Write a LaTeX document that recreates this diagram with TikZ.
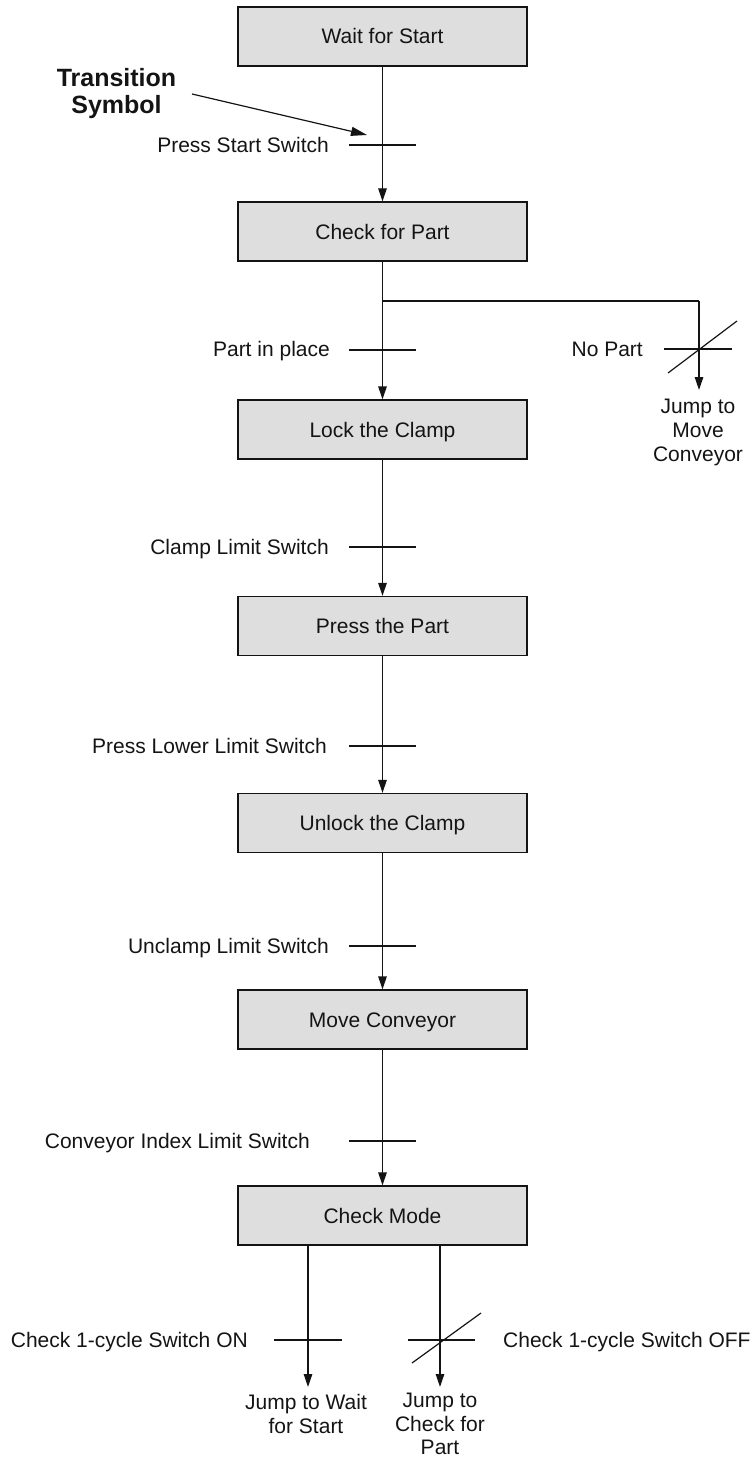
\documentclass[tikz,border=0pt]{standalone}
\usepackage{fontspec}
\setmainfont{Liberation Sans}
\usetikzlibrary{arrows.meta}
\definecolor{boxfill}{HTML}{DEDEDE}
\definecolor{ink}{HTML}{141414}
\begin{document}
\begin{tikzpicture}[x=1pt,y=-1pt,
  every node/.style={font=\fontsize{21}{24}\selectfont, text=ink},
  stepbox/.style={draw=ink, line width=1.3pt, fill=boxfill, minimum width=289pt, minimum height=59pt, inner sep=0pt, text height=15pt, text depth=0pt},
  lbl/.style={anchor=east, inner sep=0pt, text height=15pt, text depth=0pt},
  lblw/.style={anchor=west, inner sep=0pt, text height=15pt, text depth=0pt},
  jump/.style={align=center, inner sep=0pt, anchor=north},
  flow/.style={draw=ink, line width=1.3pt, -{Triangle[length=13pt,width=8.5pt]}},
  plain/.style={draw=ink, line width=1.3pt},
  bar/.style={draw=ink, line width=1.2pt},
  pointer/.style={draw=ink, line width=1.2pt, -{Triangle[length=16pt,width=9pt]}}
]
\useasboundingbox (0,0) rectangle (755,1458);

% steps
\node[stepbox] (s1) at (382.5,36.5) {Wait for Start};
\node[stepbox] (s2) at (382.5,231.5) {Check for Part};
\node[stepbox] (s3) at (382.5,429.5) {Lock the Clamp};
\node[stepbox] (s4) at (382.5,626) {Press the Part};
\node[stepbox] (s5) at (382.5,823) {Unlock the Clamp};
\node[stepbox] (s6) at (382.5,1019.5) {Move Conveyor};
\node[stepbox] (s7) at (382.5,1215.5) {Check Mode};

% main connectors
\draw[flow] (s1.south) -- (s2.north);
\draw[flow] (s2.south) -- (s3.north);
\draw[flow] (s3.south) -- (s4.north);
\draw[flow] (s4.south) -- (s5.north);
\draw[flow] (s5.south) -- (s6.north);
\draw[flow] (s6.south) -- (s7.north);

% transition bars
\draw[bar] (349,145) -- (416,145);
\draw[bar] (349,350) -- (416,350);
\draw[bar] (349,547) -- (416,547);
\draw[bar] (349,746) -- (416,746);
\draw[bar] (349,946) -- (416,946);
\draw[bar] (349,1141) -- (416,1141);

% transition labels
\node[lbl] (l1) at (329,145) {Press Start Switch};
\node[lbl] (l2) at (330,349) {Part in place};
\node[lbl] (l3) at (329,547) {Clamp Limit Switch};
\node[lbl] (l4) at (327,746) {Press Lower Limit Switch};
\node[lbl] (l5) at (329,946) {Unclamp Limit Switch};
\node[lbl] (l6) at (310,1141) {Conveyor Index Limit Switch};

% transition symbol callout
\node[font=\bfseries\fontsize{25}{27}\selectfont, align=center, inner sep=0pt] (ts) at (116.5,93.5) {Transition\\Symbol};
\coordinate (tsa) at (192,94);
\coordinate (tsb) at (367,135);
\draw[pointer] (tsa) -- (tsb);

% No part branch
\coordinate (br) at (382.5,301);
\coordinate (brc) at (699,301);
\coordinate (brt) at (699,390);
\draw[plain] (br) -- (brc);
\draw[flow] (brc) -- (brt);
\draw[bar] (664,349) -- (732,349);
\draw[bar] (668,373) -- (737,321);
\node[lbl] (np) at (643,349) {No Part};
\node[jump] (j1) at (698,398.5) {Jump to\\Move\\Conveyor};

% bottom branches
\coordinate (ba) at (308,1245);
\coordinate (bat) at (308,1387);
\coordinate (bb) at (440,1245);
\coordinate (bbt) at (440,1387);
\draw[flow] (ba) -- (bat);
\draw[flow] (bb) -- (bbt);
\draw[bar] (274,1340) -- (342,1340);
\draw[bar] (408,1340) -- (475,1340);
\draw[bar] (412,1363) -- (481,1313);
\node[lbl] (on) at (248,1340) {Check 1-cycle Switch ON};
\node[lblw] (off) at (503,1340) {Check 1-cycle Switch OFF};
\node[jump] (j2) at (306,1394.5) {Jump to Wait\\for Start};
\node[jump, font=\fontsize{21}{23.5}\selectfont] (j3) at (440,1393) {Jump to\\Check for\\Part};
\end{tikzpicture}
\end{document}
